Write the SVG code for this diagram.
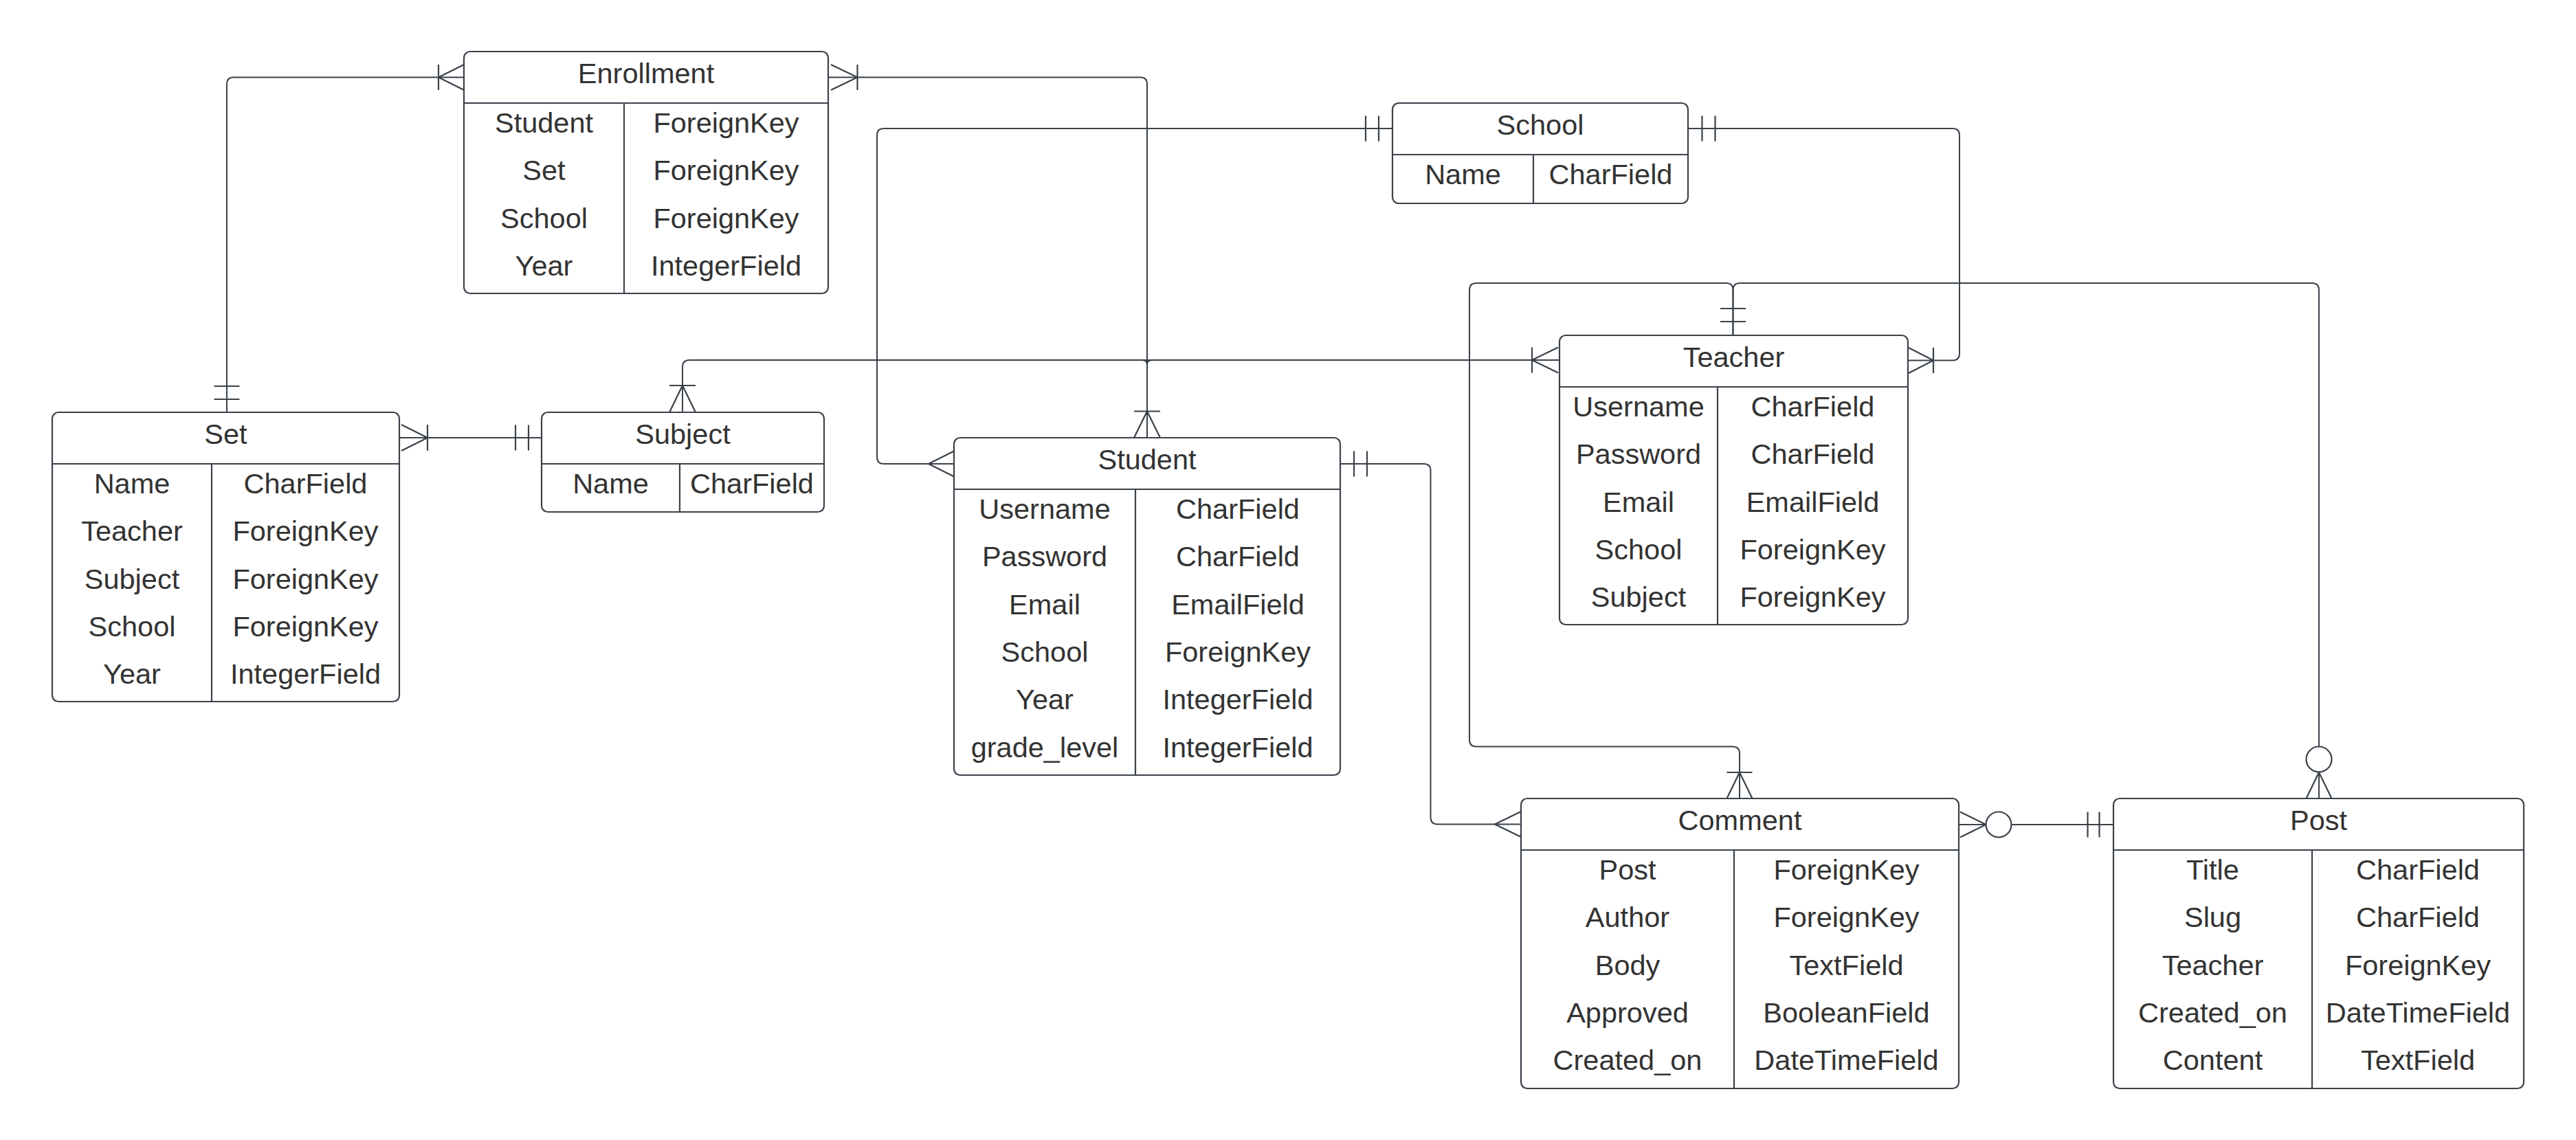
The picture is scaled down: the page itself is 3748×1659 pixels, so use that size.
<svg xmlns="http://www.w3.org/2000/svg" width="3748" height="1659" viewBox="0 0 3748 1659">
<style>
  .box { fill: #ffffff; stroke: #3a414a; stroke-width: 2.2; }
  .sep { fill: none; stroke: #3a414a; stroke-width: 2.2; }
  .ln { fill: none; stroke: #3a414a; stroke-width: 2; stroke-linejoin: round; }
  .end { fill: none; stroke: #3a414a; stroke-width: 2.2; }
  .circ { fill: #ffffff; stroke: #3a414a; stroke-width: 2.2; }
  text { font-family: "Liberation Sans", Arial, sans-serif; font-size: 41.5px; fill: #333333; text-anchor: middle; }
</style>
<rect width="3748" height="1659" fill="#ffffff"/>

<g id="connectors">
  <!-- Set - Enrollment -->
  <path class="ln" d="M330,600 V122.5 Q330,112.5 340,112.5 H675"/>
  <path class="end" d="M311.5,562 H348.5 M311.5,581 H348.5"/>
  <path class="end" d="M675,94 L638,112.5 L675,131 M638,94 V131"/>

  <!-- Enrollment - Student -->
  <path class="ln" d="M1205,112.5 H1659 Q1669,112.5 1669,122.5 V637"/>
  <path class="end" d="M1209,94 L1247.5,112.5 L1209,131 M1247.5,94 V131"/>
  <path class="end" d="M1650,637 L1669,598.5 L1688,637 M1650,598.5 H1688"/>

  <!-- School - Student -->
  <path class="ln" d="M2026,187 H1286 Q1276,187 1276,197 V665 Q1276,675 1286,675 H1388"/>
  <path class="end" d="M1987,168.5 V205.5 M2006,168.5 V205.5"/>
  <path class="end" d="M1388,656.5 L1351,675 L1388,693.5"/>

  <!-- School - Teacher -->
  <path class="ln" d="M2456,187 H2841 Q2851,187 2851,197 V514.5 Q2851,524.5 2841,524.5 H2776"/>
  <path class="end" d="M2476.5,168.5 V205.5 M2495.5,168.5 V205.5"/>
  <path class="end" d="M2777,506 L2813,524.5 L2777,543 M2813,506 V543"/>

  <!-- Subject - Teacher -->
  <path class="ln" d="M993,600 V534 Q993,524 1003,524 H2269"/>
  <path class="ln" d="M1662,524 Q1669,524 1669,531 M1676,524 Q1669,524 1669,531"/>
  <path class="end" d="M974,600 L993,561 L1012,600 M974,561 H1012"/>
  <path class="end" d="M2267,505.5 L2229,524 L2267,542.5 M2229,505.5 V542.5"/>

  <!-- Set - Subject -->
  <path class="ln" d="M581,637 H788"/>
  <path class="end" d="M584,618 L622,637 L584,656 M622,618 V656"/>
  <path class="end" d="M750,618.5 V655.5 M769,618.5 V655.5"/>

  <!-- Teacher - Comment -->
  <path class="ln" d="M2521.5,488 V422 Q2521.5,412 2511.5,412 H2148 Q2138,412 2138,422 V1076.5 Q2138,1086.5 2148,1086.5 H2521 Q2531,1086.5 2531,1096.5 V1162"/>
  <path class="end" d="M2503,449 H2540 M2503,468 H2540"/>
  <path class="end" d="M2512.5,1162 L2531,1124 L2549.5,1162 M2512.5,1124 H2549.5"/>

  <!-- Teacher - Post -->
  <path class="ln" d="M2521.5,488 V422 Q2521.5,412 2531.5,412 H3364 Q3374,412 3374,422 V1086.5 M3374,1123.5 V1162"/>
  <circle class="circ" cx="3374" cy="1105" r="18.5"/>
  <path class="end" d="M3355.5,1162 L3374,1124 L3392.5,1162"/>

  <!-- Student - Comment -->
  <path class="ln" d="M1950,675 H2071.5 Q2081.5,675 2081.5,685 V1189.5 Q2081.5,1199.5 2091.5,1199.5 H2213"/>
  <path class="end" d="M1970,656.5 V693.5 M1989,656.5 V693.5"/>
  <path class="end" d="M2213,1181 L2175,1199.5 L2213,1218"/>

  <!-- Comment - Post -->
  <path class="ln" d="M2850,1200 H2889.5 M2926.5,1200 H3075"/>
  <path class="end" d="M2852,1181.5 L2889.5,1200 L2852,1218.5"/>
  <circle class="circ" cx="2908" cy="1200" r="18.5"/>
  <path class="end" d="M3037.5,1181.5 V1218.5 M3054.5,1181.5 V1218.5"/>
</g>

<g id="enrollment">
  <rect class="box" x="675" y="75" width="530" height="352" rx="9"/>
  <path class="sep" d="M675,150 H1205 M908,150 V427"/>
  <text x="940" y="121">Enrollment</text>
  <text x="791.5" y="193">Student</text><text x="1056.5" y="193">ForeignKey</text>
  <text x="791.5" y="262.3">Set</text><text x="1056.5" y="262.3">ForeignKey</text>
  <text x="791.5" y="331.6">School</text><text x="1056.5" y="331.6">ForeignKey</text>
  <text x="791.5" y="400.9">Year</text><text x="1056.5" y="400.9">IntegerField</text>
</g>

<g id="set">
  <rect class="box" x="76" y="600" width="505" height="421" rx="9"/>
  <path class="sep" d="M76,675 H581 M308,675 V1021"/>
  <text x="328.5" y="646">Set</text>
  <text x="192" y="718">Name</text><text x="444.5" y="718">CharField</text>
  <text x="192" y="787.3">Teacher</text><text x="444.5" y="787.3">ForeignKey</text>
  <text x="192" y="856.6">Subject</text><text x="444.5" y="856.6">ForeignKey</text>
  <text x="192" y="925.9">School</text><text x="444.5" y="925.9">ForeignKey</text>
  <text x="192" y="995.2">Year</text><text x="444.5" y="995.2">IntegerField</text>
</g>

<g id="subject">
  <rect class="box" x="788" y="600" width="411" height="145" rx="9"/>
  <path class="sep" d="M788,675 H1199 M989,675 V745"/>
  <text x="993.5" y="646">Subject</text>
  <text x="888.5" y="718">Name</text><text x="1094" y="718">CharField</text>
</g>

<g id="student">
  <rect class="box" x="1388" y="637" width="562" height="491" rx="9"/>
  <path class="sep" d="M1388,712 H1950 M1652,712 V1128"/>
  <text x="1669" y="683">Student</text>
  <text x="1520" y="755">Username</text><text x="1801" y="755">CharField</text>
  <text x="1520" y="824.3">Password</text><text x="1801" y="824.3">CharField</text>
  <text x="1520" y="893.6">Email</text><text x="1801" y="893.6">EmailField</text>
  <text x="1520" y="962.9">School</text><text x="1801" y="962.9">ForeignKey</text>
  <text x="1520" y="1032.2">Year</text><text x="1801" y="1032.2">IntegerField</text>
  <text x="1520" y="1101.5">grade_level</text><text x="1801" y="1101.5">IntegerField</text>
</g>

<g id="school">
  <rect class="box" x="2026" y="150" width="430" height="146" rx="9"/>
  <path class="sep" d="M2026,225 H2456 M2231,225 V296"/>
  <text x="2241" y="196">School</text>
  <text x="2128.5" y="268">Name</text><text x="2343.5" y="268">CharField</text>
</g>

<g id="teacher">
  <rect class="box" x="2269" y="488" width="507" height="421" rx="9"/>
  <path class="sep" d="M2269,563 H2776 M2499,563 V909"/>
  <text x="2522.5" y="534">Teacher</text>
  <text x="2384" y="606">Username</text><text x="2637.5" y="606">CharField</text>
  <text x="2384" y="675.3">Password</text><text x="2637.5" y="675.3">CharField</text>
  <text x="2384" y="744.6">Email</text><text x="2637.5" y="744.6">EmailField</text>
  <text x="2384" y="813.9">School</text><text x="2637.5" y="813.9">ForeignKey</text>
  <text x="2384" y="883.2">Subject</text><text x="2637.5" y="883.2">ForeignKey</text>
</g>

<g id="comment">
  <rect class="box" x="2213" y="1162" width="637" height="422" rx="9"/>
  <path class="sep" d="M2213,1237 H2850 M2523,1237 V1584"/>
  <text x="2531.5" y="1208">Comment</text>
  <text x="2368" y="1280">Post</text><text x="2686.5" y="1280">ForeignKey</text>
  <text x="2368" y="1349.3">Author</text><text x="2686.5" y="1349.3">ForeignKey</text>
  <text x="2368" y="1418.6">Body</text><text x="2686.5" y="1418.6">TextField</text>
  <text x="2368" y="1487.9">Approved</text><text x="2686.5" y="1487.9">BooleanField</text>
  <text x="2368" y="1557.2">Created_on</text><text x="2686.5" y="1557.2">DateTimeField</text>
</g>

<g id="post">
  <rect class="box" x="3075" y="1162" width="597" height="422" rx="9"/>
  <path class="sep" d="M3075,1237 H3672 M3364,1237 V1584"/>
  <text x="3373.5" y="1208">Post</text>
  <text x="3219.5" y="1280">Title</text><text x="3518" y="1280">CharField</text>
  <text x="3219.5" y="1349.3">Slug</text><text x="3518" y="1349.3">CharField</text>
  <text x="3219.5" y="1418.6">Teacher</text><text x="3518" y="1418.6">ForeignKey</text>
  <text x="3219.5" y="1487.9">Created_on</text><text x="3518" y="1487.9">DateTimeField</text>
  <text x="3219.5" y="1557.2">Content</text><text x="3518" y="1557.2">TextField</text>
</g>
</svg>
